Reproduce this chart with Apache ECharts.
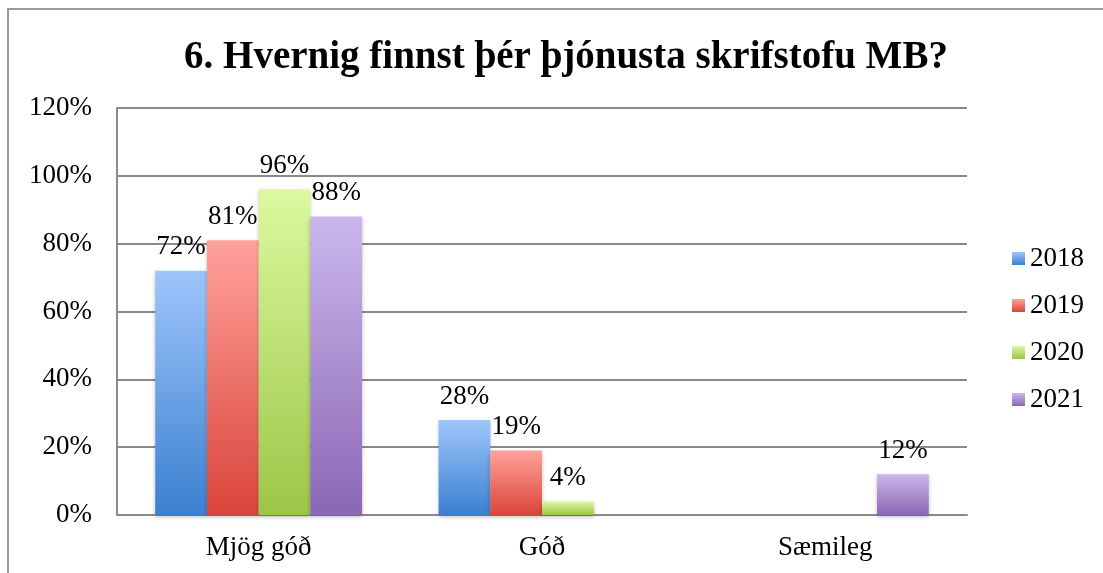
<!DOCTYPE html>
<html>
<head>
<meta charset="utf-8">
<script src="https://cdn.jsdelivr.net/npm/echarts@6/dist/echarts.min.js"></script>
<style>
  html, body { margin: 0; padding: 0; background: #fff; }
  #chart { width: 1103px; height: 573px; }
</style>
</head>
<body>
<div id="chart"></div>
<script>
const categories = ["Mjög góð", "Góð", "Sæmileg"];
const years = ["2018", "2019", "2020", "2021"];
const values2018 = [72, 28, null];
const values2019 = [81, 19, null];
const values2020 = [96, 4, null];
const values2021 = [88, null, 12];
const yTicks = [0, 20, 40, 60, 80, 100, 120];

const fontFamily = "'Liberation Serif', serif";

const gradients = [
  ["#9ec5fb", "#3b80d0"],
  ["#ffa29c", "#d9443a"],
  ["#dcf9a0", "#9cc647"],
  ["#cbb7ec", "#8b67b5"],
];

function grad(c) {
  return {
    type: "linear", x: 0, y: 0, x2: 0, y2: 1,
    colorStops: [
      { offset: 0, color: c[0] },
      { offset: 1, color: c[1] },
    ],
  };
}

const seriesData = [values2018, values2019, values2020, values2021];

const chart = echarts.init(document.getElementById("chart"));

chart.setOption({
  animation: false,
  title: {
    text: "6. Hvernig finnst þér þjónusta skrifstofu MB?",
    left: 561,
    top: 33,
    textAlign: "center",
    textStyle: { fontFamily, fontSize: 39, fontWeight: "bold", color: "#000" },
  },
  graphic: [
    {
      type: "rect",
      shape: { x: 8, y: 9, width: 1300, height: 800 },
      style: { fill: "none", stroke: "#9a9a9a", lineWidth: 2 },
      silent: true,
    },
  ],
  legend: {
    orient: "vertical",
    left: 1007,
    top: 240,
    itemWidth: 13,
    itemHeight: 13,
    itemGap: 20,
    icon: "rect",
    textStyle: { fontFamily, fontSize: 27, color: "#000" },
    data: years,
  },
  grid: { left: 117, right: 136, top: 108, bottom: 58 },
  xAxis: {
    type: "category",
    data: categories,
    axisLine: { lineStyle: { color: "#8a8a8a", width: 2 } },
    axisTick: { show: false },
    axisLabel: { fontFamily, fontSize: 27, color: "#000", margin: 19 },
  },
  yAxis: {
    type: "value",
    min: 0,
    max: 120,
    interval: 20,
    axisLine: { show: true, lineStyle: { color: "#8a8a8a", width: 2 } },
    axisTick: { show: false },
    splitLine: { lineStyle: { color: "#8a8a8a", width: 2 } },
    axisLabel: {
      fontFamily, fontSize: 27, color: "#000", margin: 25,
      formatter: (v) => (yTicks.includes(v) ? v + "%" : ""),
    },
  },
  series: years.map((y, i) => ({
    name: y,
    type: "bar",
    data: seriesData[i],
    barGap: "0%",
    barCategoryGap: "27%",
    itemStyle: {
      color: grad(gradients[i]),
      shadowColor: "rgba(0,0,0,0.25)",
      shadowBlur: 4,
      shadowOffsetY: 2,
    },
    label: {
      show: true,
      position: "top",
      distance: 10,
      fontFamily,
      fontSize: 27,
      color: "#000",
      formatter: (p) => p.value + "%",
    },
  })),
});
</script>
</body>
</html>
